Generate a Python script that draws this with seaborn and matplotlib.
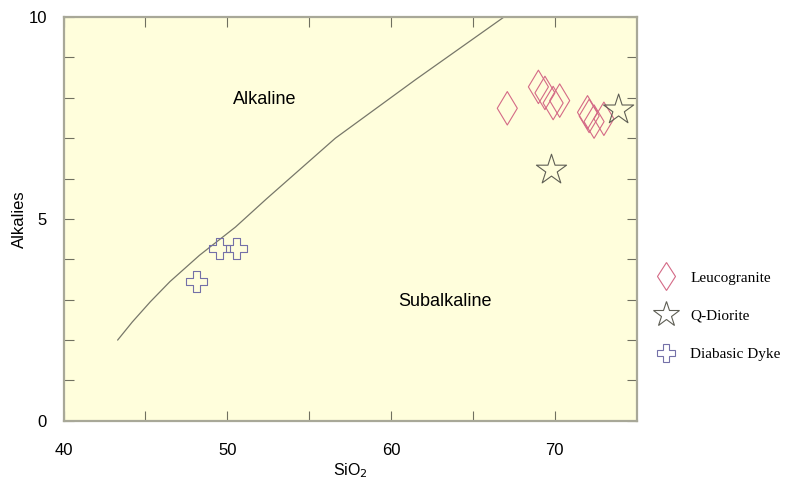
import matplotlib
matplotlib.use("Agg")
import matplotlib.pyplot as plt
from matplotlib.lines import Line2D
import seaborn as sns
import pandas as pd

# Irvine & Baragar alkaline / subalkaline divide
curve_sio2 = [43.3, 44.2, 45.3, 46.5, 48.3, 50.5, 52.4, 54.5, 56.6, 61.5, 66.9]
curve_alk = [2.0, 2.45, 2.95, 3.45, 4.1, 4.8, 5.5, 6.25, 7.0, 8.45, 10.0]

# samples
leuco_sio2 = [67.1, 69.0, 69.4, 69.9, 70.3, 72.0, 72.1, 72.4, 73.0]
leuco_alk = [7.74, 8.27, 8.12, 7.87, 7.93, 7.64, 7.55, 7.41, 7.48]
qdio_sio2 = [73.9, 69.8]
qdio_alk = [7.70, 6.21]
dyke_sio2 = [49.55, 50.57, 48.13]
dyke_alk = [4.26, 4.26, 3.45]

groups = ["Leucogranite", "Q-Diorite", "Diabasic Dyke"]
markers = {"Leucogranite": "d", "Q-Diorite": "*", "Diabasic Dyke": "P"}
colors = {"Leucogranite": "#d46a86", "Q-Diorite": "#5e5e54", "Diabasic Dyke": "#7470a8"}
sizes = {"Leucogranite": 290, "Q-Diorite": 520, "Diabasic Dyke": 230}

df = pd.DataFrame({
    "SiO2": leuco_sio2 + qdio_sio2 + dyke_sio2,
    "Alkalies": leuco_alk + qdio_alk + dyke_alk,
    "Rock": ["Leucogranite"] * len(leuco_sio2) + ["Q-Diorite"] * len(qdio_sio2)
            + ["Diabasic Dyke"] * len(dyke_sio2),
})

sns.set_style("ticks")
plt.rcParams["font.family"] = ["Liberation Sans", "DejaVu Sans"]
plt.rcParams["text.color"] = "black"
plt.rcParams["axes.labelcolor"] = "black"
plt.rcParams["xtick.labelcolor"] = "black"
plt.rcParams["ytick.labelcolor"] = "black"

fig, ax = plt.subplots(figsize=(7.85, 4.86), dpi=100)
fig.subplots_adjust(left=0.081, right=0.811, top=0.965, bottom=0.134)
ax.set_facecolor("#fffedc")

sns.lineplot(x=curve_sio2, y=curve_alk, ax=ax, color="#77776a", linewidth=0.9, sort=False)

handles = []
for g in groups:
    sub = df[df["Rock"] == g]
    ax.scatter(sub["SiO2"], sub["Alkalies"], marker=markers[g], s=sizes[g],
               facecolors="none", edgecolors=colors[g], linewidths=0.8, zorder=3)
    handles.append(Line2D([], [], linestyle="none", marker=markers[g],
                          markersize=sizes[g] ** 0.5 * 0.85, markerfacecolor="none",
                          markeredgecolor=colors[g], markeredgewidth=0.8, label=g))

ax.text(52.3, 7.95, "Alkaline", fontsize=13, ha="center", va="center")
ax.text(63.3, 2.95, "Subalkaline", fontsize=13, ha="center", va="center")

ax.set_xlim(40, 75)
ax.set_ylim(0, 10)
ax.set_xticks([40, 45, 50, 55, 60, 65, 70])
ax.set_xticklabels(["40", "", "50", "", "60", "", "70"])
ax.set_yticks([0, 5, 10])
ax.set_yticks(range(0, 11), minor=True)
ax.tick_params(axis="both", which="both", direction="in", length=7, width=0.8,
               color="#707060", top=True, right=True, labelsize=12)
ax.tick_params(axis="x", pad=16)
ax.tick_params(axis="y", pad=12)
for sp in ax.spines.values():
    sp.set_color("#a8a898")
    sp.set_linewidth(1.6)

ax.set_xlabel("SiO$_2$", fontsize=11.5, labelpad=2)
ax.set_ylabel("Alkalies", fontsize=12, labelpad=1)

ax.legend(handles=handles, loc="center left", bbox_to_anchor=(1.0, 0.26),
          frameon=False, labelspacing=1.6, handletextpad=0.6,
          prop={"family": "Liberation Serif", "size": 11})

fig.savefig("out.png", dpi=100)
